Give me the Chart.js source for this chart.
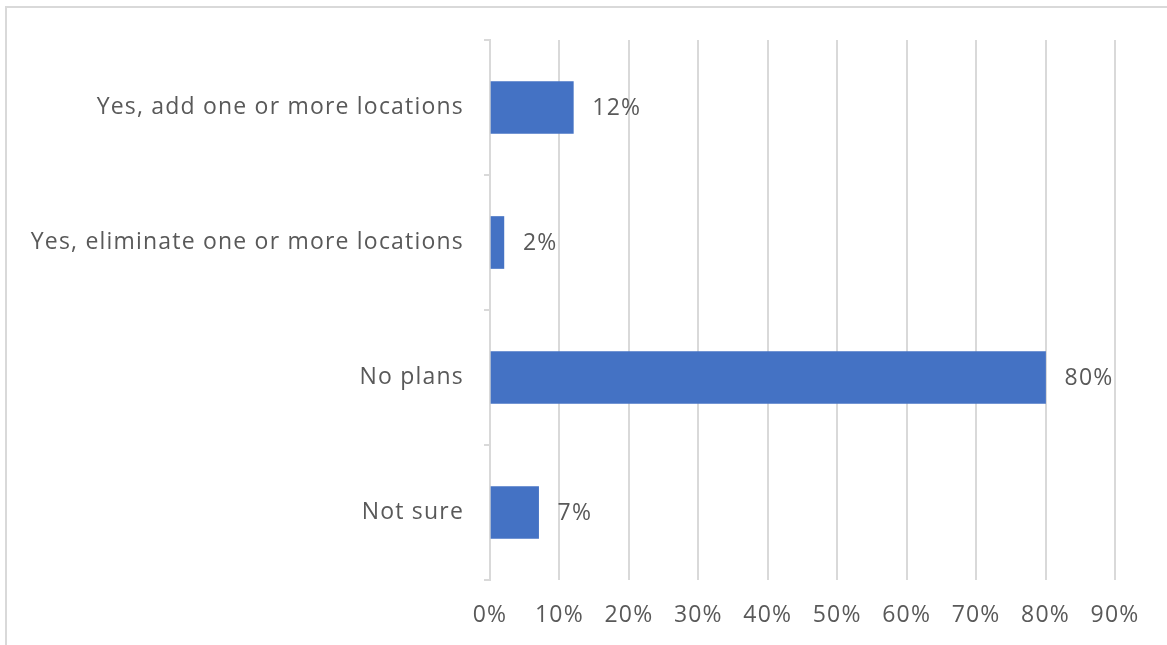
<!DOCTYPE html>
<html>
<head>
<meta charset="utf-8">
<script src="https://cdn.jsdelivr.net/npm/chart.js@4/dist/chart.umd.min.js"></script>
<style>
  html, body { margin: 0; padding: 0; background: #fff; overflow: hidden; }
  #wrap { position: relative; width: 1167px; height: 645px; }
  #frame { position: absolute; left: 5px; top: 6px; width: 1200px; height: 700px;
           border-top: 2px solid #d9d9d9; border-left: 2px solid #d9d9d9; }
  canvas { position: absolute; left: 0; top: 0; }
</style>
</head>
<body>
<div id="wrap">
  <div id="frame"></div>
  <canvas id="chart" width="1167" height="645"></canvas>
</div>
<script>
// Survey responses: plans to change the number of locations
const categories = [
  'Yes, add one or more locations',
  'Yes, eliminate one or more locations',
  'No plans',
  'Not sure'
];
const shares = [12, 2, 80, 7];
const tickValues = [0, 10, 20, 30, 40, 50, 60, 70, 80, 90];

const FONT = { family: '"Open Sans", sans-serif', size: 23 };
const SPACING = '1.2px';
const TEXT = '#595959';
const GRID = '#d9d9d9';

// Slightly open tracking for all chart text
const tracking = {
  id: 'tracking',
  beforeLayout(chart) { chart.ctx.letterSpacing = SPACING; },
  beforeDraw(chart) { chart.ctx.letterSpacing = SPACING; }
};

// Writes the percentage just past the end of each bar
const valueLabels = {
  id: 'valueLabels',
  afterDatasetsDraw(chart) {
    const ctx = chart.ctx;
    ctx.save();
    ctx.letterSpacing = SPACING;
    ctx.font = `${FONT.size}px ${FONT.family}`;
    ctx.fillStyle = TEXT;
    ctx.textAlign = 'left';
    ctx.textBaseline = 'middle';
    chart.getDatasetMeta(0).data.forEach((bar, i) => {
      ctx.fillText(shares[i] + '%', bar.x + 19, bar.y + 1);
    });
    ctx.restore();
  }
};

new Chart(document.getElementById('chart'), {
  type: 'bar',
  data: {
    labels: categories,
    datasets: [{
      data: shares,
      backgroundColor: '#4472C4',
      borderWidth: 0,
      barThickness: 52
    }]
  },
  options: {
    indexAxis: 'y',
    responsive: false,
    animation: false,
    layout: { padding: { top: 40, right: 52, left: 0, bottom: 0 } },
    plugins: { legend: { display: false }, tooltip: { enabled: false } },
    scales: {
      x: {
        min: 0,
        max: 90,
        afterBuildTicks(scale) { scale.ticks = tickValues.map(v => ({ value: v })); },
        afterFit(scale) { scale.height = 65; },
        grid: { color: GRID, lineWidth: 2, drawTicks: false },
        border: { display: false },
        ticks: {
          color: TEXT,
          font: FONT,
          padding: 22,
          maxRotation: 0,
          callback: v => v + '%'
        }
      },
      y: {
        offset: true,
        afterFit(scale) { scale.width = 490; },
        grid: {
          offset: true,
          drawOnChartArea: false,
          drawTicks: true,
          tickLength: 6,
          color: GRID,
          lineWidth: 2
        },
        border: { display: true, color: GRID, width: 2 },
        ticks: { color: TEXT, font: FONT, padding: 20 }
      }
    }
  },
  plugins: [tracking, valueLabels]
});
</script>
</body>
</html>
